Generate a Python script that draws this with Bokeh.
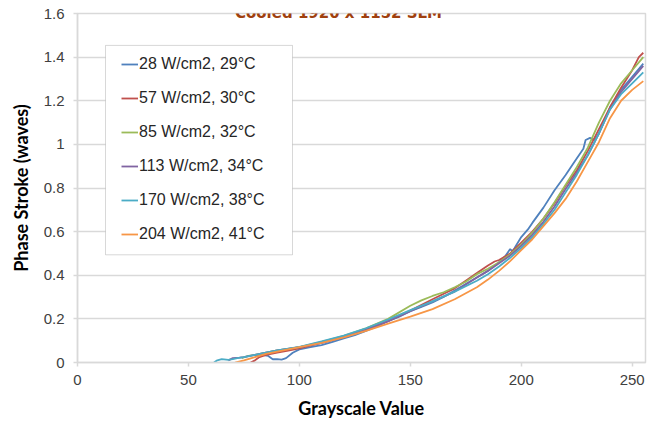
from bokeh.plotting import figure
from bokeh.models import (Range1d, FixedTicker, NumeralTickFormatter, Legend, LegendItem,
                          Label, BoxAnnotation)
from bokeh.embed import file_html
from bokeh.resources import INLINE

# ---------------- data ----------------
title_text = "Cooled 1920 x 1152 SLM"
x_label = "Grayscale Value"
y_label = "Phase Stroke (waves)"
x_ticks = [0, 50, 100, 150, 200, 250]
y_ticks = [0, 0.2, 0.4, 0.6, 0.8, 1.0, 1.2, 1.4, 1.6]

series_names = ["28 W/cm2, 29°C", "57 W/cm2, 30°C", "85 W/cm2, 32°C",
                "113 W/cm2, 34°C", "170 W/cm2, 38°C", "204 W/cm2, 41°C"]

blue_x = [80, 83, 86, 88, 90, 92, 94, 97, 100, 105, 110, 115, 120, 125, 130, 135, 140, 145,
          150, 155, 160, 165, 170, 175, 180, 185, 190, 193, 195, 196, 197, 200, 203, 205,
          210, 215, 220, 224, 228, 229, 231, 233, 235, 240, 245, 250, 255]
blue_y = [0.03, 0.035, 0.03, 0.015, 0.015, 0.013, 0.02, 0.045, 0.06, 0.07, 0.08, 0.095,
          0.11, 0.125, 0.145, 0.165, 0.19, 0.21, 0.235, 0.255, 0.275, 0.3, 0.33, 0.36,
          0.39, 0.42, 0.46, 0.49, 0.52, 0.51, 0.525, 0.575, 0.61, 0.64, 0.71, 0.79, 0.86,
          0.92, 0.98, 1.02, 1.03, 1.02, 1.05, 1.17, 1.25, 1.31, 1.37]

red_x = [78, 80, 82, 85, 90, 95, 100, 110, 120, 130, 140, 150, 160, 170, 175, 180, 185,
         188, 190, 195, 200, 205, 210, 215, 220, 225, 230, 235, 240, 245, 250, 253, 255]
red_y = [0.0, 0.01, 0.025, 0.035, 0.045, 0.055, 0.065, 0.09, 0.118, 0.152, 0.19, 0.238,
         0.29, 0.34, 0.375, 0.41, 0.445, 0.463, 0.47, 0.5, 0.55, 0.6, 0.66, 0.73, 0.81,
         0.88, 0.97, 1.07, 1.17, 1.26, 1.34, 1.4, 1.42]

green_x = [74, 77, 80, 85, 90, 95, 100, 110, 120, 130, 140, 150, 155, 160, 165, 170, 175,
           180, 185, 190, 195, 200, 205, 210, 215, 220, 225, 230, 235, 240, 245, 250, 255]
green_y = [0.02, 0.03, 0.035, 0.045, 0.055, 0.062, 0.07, 0.095, 0.122, 0.157, 0.2, 0.26,
           0.285, 0.305, 0.322, 0.345, 0.37, 0.405, 0.43, 0.46, 0.495, 0.54, 0.595, 0.66,
           0.735, 0.815, 0.895, 0.985, 1.1, 1.2, 1.28, 1.34, 1.4]

purple_x = [68, 70, 73, 75, 80, 85, 90, 100, 110, 120, 130, 140, 150, 160, 170, 180, 185,
            190, 195, 200, 205, 210, 215, 220, 225, 230, 235, 240, 245, 250, 255]
purple_y = [0.01, 0.02, 0.022, 0.025, 0.035, 0.045, 0.055, 0.07, 0.09, 0.116, 0.15, 0.19,
            0.235, 0.28, 0.325, 0.39, 0.42, 0.455, 0.49, 0.535, 0.585, 0.645, 0.715, 0.795,
            0.87, 0.95, 1.05, 1.16, 1.24, 1.3, 1.36]

cyan_x = [61.5, 63, 65, 68, 70, 72, 75, 80, 85, 90, 100, 110, 120, 130, 140, 150, 160, 170,
          180, 185, 190, 195, 200, 205, 210, 215, 220, 225, 230, 235, 240, 245, 250, 255]
cyan_y = [0.0, 0.01, 0.015, 0.012, 0.015, 0.02, 0.025, 0.035, 0.045, 0.055, 0.072, 0.097,
          0.123, 0.157, 0.197, 0.24, 0.28, 0.325, 0.375, 0.405, 0.44, 0.48, 0.525, 0.575,
          0.635, 0.7, 0.78, 0.86, 0.95, 1.05, 1.16, 1.23, 1.28, 1.33]

orange_x = [71, 75, 80, 85, 90, 95, 100, 110, 120, 130, 140, 150, 160, 170, 180, 185, 190,
            195, 200, 205, 210, 215, 220, 225, 230, 235, 240, 245, 250, 255]
orange_y = [0.0, 0.01, 0.025, 0.04, 0.05, 0.06, 0.07, 0.09, 0.115, 0.145, 0.178, 0.21, 0.245,
            0.29, 0.345, 0.38, 0.42, 0.465, 0.515, 0.565, 0.625, 0.685, 0.75, 0.83, 0.92,
            1.01, 1.12, 1.2, 1.25, 1.29]

series_x = [blue_x, red_x, green_x, purple_x, cyan_x, orange_x]
series_y = [blue_y, red_y, green_y, purple_y, cyan_y, orange_y]
colors = ["#4F81BD", "#C0504D", "#9BBB59", "#8064A2", "#4BACC6", "#F79646"]

# ---------------- layout ----------------
W, H = 655, 421
FL, FR, FT, FB = 77, 645, 13, 363      # frame edges in canvas pixels
X0, X1, Y0, Y1 = 0, 256, 0, 1.6


def px_x(px):
    return X0 + (px - FL) * (X1 - X0) / (FR - FL)


def px_y(py):
    return Y0 + (FB - py) * (Y1 - Y0) / (FB - FT)


p = figure(width=W, height=H, output_backend="svg", toolbar_location=None,
           x_range=Range1d(X0, X1), y_range=Range1d(Y0, Y1),
           min_border_left=FL, min_border_right=W - FR,
           min_border_top=FT, min_border_bottom=H - FB)
p.styles = {"position": "absolute", "left": "0px", "top": "0px"}
p.background_fill_color = "white"
p.border_fill_color = "white"
p.outline_line_color = "#d9d9d9"
p.outline_line_width = 1.5

grid_col = "#d9d9d9"
p.xgrid.visible = False
p.ygrid.grid_line_color = grid_col
p.ygrid.grid_line_width = 1.5
p.ygrid.ticker = FixedTicker(ticks=y_ticks)

for ax in (p.xaxis[0], p.yaxis[0]):
    ax.axis_line_color = grid_col
    ax.axis_line_width = 1.5
    ax.major_tick_line_color = grid_col
    ax.major_tick_line_width = 1.5
    ax.major_tick_out = 4
    ax.major_tick_in = 0
    ax.minor_tick_line_color = None
    ax.major_label_text_font = "Liberation Sans"
    ax.major_label_text_font_size = "15px"
    ax.major_label_text_color = "#404040"
    ax.axis_label_text_font = "Lato"
    ax.axis_label_text_font_style = "bold"
    ax.axis_label_text_font_size = "18px"
    ax.axis_label_text_color = "#000000"

p.xaxis.ticker = FixedTicker(ticks=x_ticks)
p.yaxis.ticker = FixedTicker(ticks=y_ticks)
p.yaxis.formatter = NumeralTickFormatter(format="0.[0]")
p.xaxis.major_label_standoff = 8
p.yaxis.major_label_standoff = 9
p.xaxis.axis_label = x_label
p.yaxis.axis_label = y_label
p.xaxis.axis_label_standoff = 9
p.yaxis.axis_label_standoff = 9

renderers = []
for xs, ys, c in zip(series_x, series_y, colors):
    r = p.line(xs, ys, line_color=c, line_width=1.8)
    renderers.append(r)

# legend frame
p.add_layout(BoxAnnotation(left=px_x(105), right=px_x(292), top=px_y(45), bottom=px_y(255),
                           fill_color="white", fill_alpha=1.0,
                           line_color="#7f7f7f", line_width=1))

legend = Legend(items=[LegendItem(label=n, renderers=[r]) for n, r in zip(series_names, renderers)],
                location=(129 - 8 - FL, FB - 245), padding=8, margin=0,
                spacing=14, glyph_width=17, glyph_height=20, label_height=20,
                label_standoff=1, border_line_color=None, background_fill_alpha=0,
                label_text_font="Liberation Sans", label_text_font_size="16px",
                label_text_color="#262626")
p.add_layout(legend)

# title, kept fully visible in the strip above the plot area
p.add_layout(Label(x=px_x(338), y=px_y(12.5), text=title_text, text_align="center",
                   text_baseline="alphabetic", text_font="DejaVu Sans",
                   text_font_style="bold", text_font_size="15px", text_color="#A0400E"))

# caption fragments at the bottom left
p.add_layout(Label(x=px_x(1), y=px_y(404), text="図 1-2-17", text_baseline="alphabetic",
                   text_font="Noto Sans CJK JP", text_font_size="9px", text_color="#222222"))
p.add_layout(Label(x=px_x(1), y=px_y(415), text="0068", text_baseline="alphabetic",
                   text_font="Noto Sans CJK JP", text_font_size="9px", text_color="#222222"))

open("out.html", "w").write(file_html(p, INLINE))
